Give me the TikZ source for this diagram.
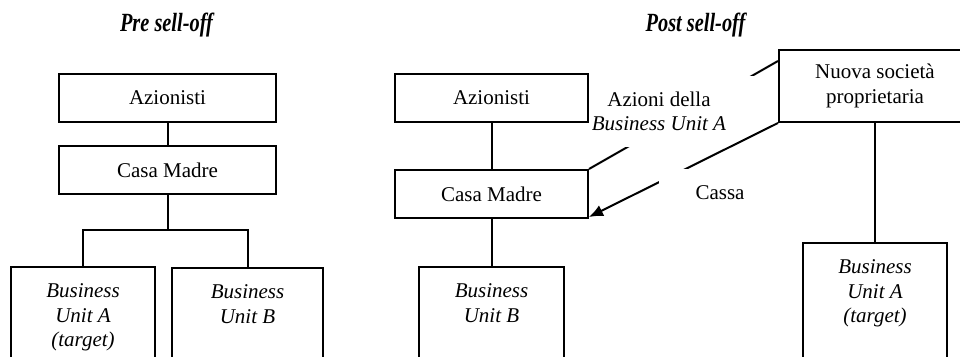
\documentclass[tikz,border=0pt]{standalone}
\usepackage{fontspec}
\setmainfont{Liberation Serif}
\usepackage{tikz}
\usetikzlibrary{arrows.meta}
\newcommand{\bu}[1]{\textit{#1}}

\begin{document}
\begin{tikzpicture}[x=1pt,y=-1pt,line width=2pt,
    font=\fontsize{21}{24.5}\selectfont,
    box/.style={draw,minimum height=48pt,inner sep=0pt},
    bubox/.style={draw,anchor=north,align=center,font=\fontsize{21}{24.5}\selectfont\itshape,
        inner xsep=0pt,inner ysep=17pt,text depth=90pt},
    gapbox/.style={fill=white,inner sep=0pt},
    lbl/.style={align=center,inner sep=0pt},
    title/.style={font=\fontsize{21}{24}\selectfont\bfseries\itshape}]
        \clip (0,0) rectangle (960,356);
        % Pre sell-off
        \node[title] (pre) at (166.5,25) {\scalebox{0.97}[1.25]{Pre sell-off}};
        \node[box,minimum width=217pt] (azL) at (167.5,98) {Azionisti};
        \node[box,minimum width=217pt] (cmL) at (167.5,170) {Casa Madre};
        \node[bubox,minimum width=144pt] (buAL) at (83,266) {Business\\Unit A\\(target)};
        \node[bubox,minimum width=151pt] (buBL) at (247.5,267) {Business\\Unit B};
        \coordinate (barL) at (167.5,230);
        \draw (azL) -- (cmL);
        \draw (cmL.south) -- (barL);
        \draw (buAL.north) |- (barL) -| (buBL.north);
        %
        % Post sell-off
        \node[title] (post) at (695.5,25) {\scalebox{0.97}[1.25]{Post sell-off}};
        \node[box,minimum width=193pt] (azR) at (491.5,98) {Azionisti};
        \node[box,minimum width=193pt] (cmR) at (491.5,194) {Casa Madre};
        \node[bubox,minimum width=145pt] (buBR) at (491.5,266) {Business\\Unit B};
        \node[box,minimum width=192pt,minimum height=72pt,align=center] (nuova) at (875,86) {Nuova società\\proprietaria};
        \node[bubox,minimum width=144pt] (buAR) at (875,242) {Business\\Unit A\\(target)};
        \draw (azR) -- (cmR);
        \draw (cmR) -- (buBR);
        \draw (nuova) -- (buAR);
        %
        % Flows between Casa Madre and the new owner:
        \draw (cmR.north east) -- ([yshift=-12pt]nuova.north west);
        \node[gapbox,minimum width=166pt,minimum height=71pt,
            label={[lbl,xshift=-14pt]center:{Azioni della\\\bu{Business Unit A}}}] (azioni) at (673,111.5) {};
        \draw[-{Latex[length=14pt,width=12pt]}] (nuova.south west) -- ([yshift=2pt]cmR.south east);
        \node[gapbox,minimum width=122pt,minimum height=48pt] (cassa) at (720,193) {Cassa};
\end{tikzpicture}
\end{document}
